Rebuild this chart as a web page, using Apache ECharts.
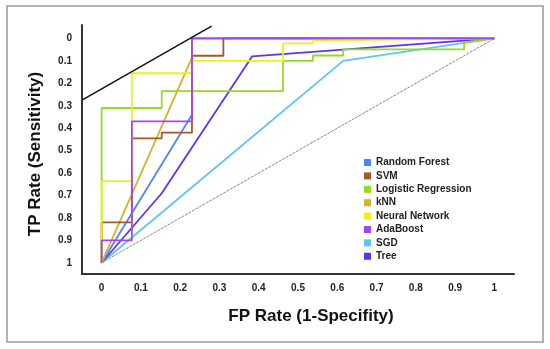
<!DOCTYPE html>
<html>
<head>
<meta charset="utf-8">
<script src="https://cdn.jsdelivr.net/npm/echarts@6/dist/echarts.min.js"></script>
<style>
html,body{margin:0;padding:0;background:#fff;}
#chart{width:550px;height:349px;}
</style>
</head>
<body>
<div id="chart"></div>
<script>
var tickValues = [0, 0.1, 0.2, 0.3, 0.4, 0.5, 0.6, 0.7, 0.8, 0.9, 1];
var tickLabels = ['0', '0.1', '0.2', '0.3', '0.4', '0.5', '0.6', '0.7', '0.8', '0.9', '1'];
var seriesNames = ['Random Forest', 'SVM', 'Logistic Regression', 'kNN', 'Neural Network', 'AdaBoost', 'SGD', 'Tree'];

var randomForest = [[0, 1], [0.23, 0.34], [0.23, 0], [1, 0]];
var svm = [[0, 1], [0, 0.82], [0.077, 0.82], [0.077, 0.445], [0.153, 0.445], [0.153, 0.42], [0.23, 0.42], [0.23, 0.077], [0.31, 0.077], [0.31, 0], [1, 0]];
var logisticRegression = [[0, 1], [0, 0.31], [0.153, 0.31], [0.153, 0.235], [0.462, 0.235], [0.462, 0.10], [0.538, 0.10], [0.538, 0.076], [0.615, 0.076], [0.615, 0.049], [0.923, 0.049], [0.923, 0.018], [1, 0]];
var knn = [[0, 1], [0.23, 0.085], [0.23, 0], [1, 0]];
var neuralNetwork = [[0, 1], [0, 0.636], [0.077, 0.636], [0.077, 0.155], [0.23, 0.155], [0.23, 0.10], [0.462, 0.10], [0.462, 0.022], [0.538, 0.022], [0.538, 0.01], [1, 0]];
var adaBoost = [[0, 1], [0, 0.9], [0.077, 0.9], [0.077, 0.37], [0.23, 0.37], [0.23, 0], [1, 0]];
var sgd = [[0, 1], [0.615, 0.10], [1, 0]];
var tree = [[0, 1], [0.153, 0.69], [0.383, 0.08], [1, 0]];
var chanceLine = [[0, 1], [1, 0]];
var isoLine = [[-0.05, 0.275], [0.28, -0.055]];

var colors = {
  'Random Forest': '#4f86f7',
  'SVM': '#a5582a',
  'Logistic Regression': '#94dc1e',
  'kNN': '#d4b32a',
  'Neural Network': '#eef01c',
  'AdaBoost': '#a646f2',
  'SGD': '#5ec4f8',
  'Tree': '#5b35ee'
};

function lineSeries(name, data, z) {
  return {
    name: name, type: 'line', data: data, symbol: 'none', z: z,
    lineStyle: { color: colors[name], width: 1.8 },
    itemStyle: { color: colors[name] },
    animation: false
  };
}

var chart = echarts.init(document.getElementById('chart'));
function labelFormatter(v) {
  for (var i = 0; i < tickValues.length; i++) {
    if (Math.abs(tickValues[i] - v) < 1e-6) return tickLabels[i];
  }
  return '';
}
function makeAxis(min, max, inverse, margin) {
  return {
    type: 'value', min: min, max: max, inverse: inverse,
    axisLine: { show: true, onZero: false, lineStyle: { color: '#333', width: 2 } },
    axisTick: { show: false },
    splitLine: { show: false },
    axisLabel: {
      customValues: tickValues, formatter: labelFormatter, margin: margin,
      color: '#222', fontWeight: 'bold', fontSize: 10, fontFamily: 'Liberation Sans, Arial, sans-serif'
    }
  };
}

chart.setOption({
  animation: false,
  backgroundColor: '#fff',
  grid: { left: 82, right: 36, top: 25, bottom: 75 },
  xAxis: makeAxis(-0.05, 1.05, false, 9),
  yAxis: makeAxis(-0.06, 1.05, true, 10),
  legend: {
    data: seriesNames.map(function (n) { return { name: n, icon: 'rect' }; }),
    orient: 'vertical', left: 364, top: 157, padding: 0,
    itemWidth: 7, itemHeight: 7, itemGap: 2.4,
    textStyle: { color: '#222', fontWeight: 'bold', fontSize: 10, lineHeight: 11, fontFamily: 'Liberation Sans, Arial, sans-serif' }
  },
  graphic: [
    { type: 'rect', shape: { x: 7, y: 6, width: 536, height: 336 }, style: { fill: 'none', stroke: '#9a9a9a', lineWidth: 1.5 }, z: -1 },
    { type: 'text', x: 35, y: 154, rotation: Math.PI / 2, style: { text: 'TP Rate (Sensitivity)', fill: '#111', font: 'bold 17px Liberation Sans, Arial, sans-serif', align: 'center', verticalAlign: 'middle' } },
    { type: 'text', x: 311, y: 316, style: { text: 'FP Rate (1-Specifity)', fill: '#111', font: 'bold 17px Liberation Sans, Arial, sans-serif', align: 'center', verticalAlign: 'middle' } }
  ],
  series: [
    { type: 'line', data: chanceLine, symbol: 'none', lineStyle: { color: '#8a8a8a', width: 1, type: [3, 1] }, z: 1, silent: true },
    lineSeries('SGD', sgd, 2),
    lineSeries('Tree', tree, 3),
    lineSeries('Random Forest', randomForest, 4),
    lineSeries('kNN', knn, 5),
    lineSeries('Logistic Regression', logisticRegression, 6),
    lineSeries('SVM', svm, 7),
    lineSeries('Neural Network', neuralNetwork, 8),
    lineSeries('AdaBoost', adaBoost, 9),
    { type: 'line', data: isoLine, symbol: 'none', lineStyle: { color: '#111', width: 1.5 }, z: 10, silent: true }
  ]
});
</script>
</body>
</html>
